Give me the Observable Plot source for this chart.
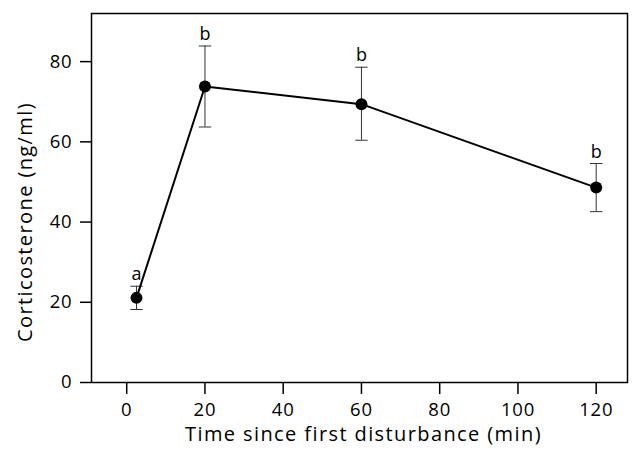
<!DOCTYPE html>
<html>
<head>
<meta charset="utf-8">
<script src="https://cdn.jsdelivr.net/npm/d3@7"></script>
<script src="https://cdn.jsdelivr.net/npm/@observablehq/plot@0.6"></script>
<style>
  body { margin: 0; background: #fff; }
</style>
</head>
<body>
<div id="chart"></div>
<script>
const times = [2.5, 20, 60, 120];
const means = [21.1, 73.8, 69.4, 48.6];
const lows = [18.2, 63.7, 60.4, 42.6];
const highs = [24.0, 83.9, 78.6, 54.6];
const letters = ["a", "b", "b", "b"];
const xTicks = [0, 20, 40, 60, 80, 100, 120];
const yTicks = [0, 20, 40, 60, 80];
const xLabel = "Time since first disturbance (min)";
const yLabel = "Corticosterone (ng/ml)";

const data = times.map((t, i) => ({t, m: means[i], lo: lows[i], hi: highs[i], g: letters[i]}));

const capSymbol = {
  draw(ctx, size) {
    const w = Math.sqrt(size);
    ctx.moveTo(-w, 0);
    ctx.lineTo(w, 0);
  }
};

const chart = Plot.plot({
  width: 632,
  height: 451,
  marginLeft: 91,
  marginRight: 5,
  marginTop: 13,
  marginBottom: 69,
  style: {fontFamily: "Open Sans, sans-serif", fontSize: "19px", color: "#000", background: "#fff"},
  x: {domain: [-9, 128]},
  y: {domain: [0, 92]},
  marks: [
    Plot.axisX({ticks: xTicks, tickSize: 12, tickPadding: 8, tickFormat: d => d, label: null, strokeWidth: 1.5, fontSize: 19}),
    Plot.axisY({ticks: yTicks, tickSize: 11, tickPadding: 8, tickFormat: d => d, label: null, strokeWidth: 1.5, fontSize: 19}),
    Plot.text([xLabel], {frameAnchor: "bottom", textAnchor: "middle", dx: 4, dy: 44, lineAnchor: "top", fontSize: 20, fill: "#000"}),
    Plot.text([yLabel], {frameAnchor: "left", textAnchor: "middle", dx: -66, dy: 24, rotate: -90, fontSize: 20, fill: "#000"}),
    Plot.ruleX(data, {x: "t", y1: "lo", y2: "hi", stroke: "#333", strokeWidth: 1}),
    Plot.dot(data, {x: "t", y: "lo", symbol: capSymbol, r: 3.5, stroke: "#333", strokeWidth: 1}),
    Plot.dot(data, {x: "t", y: "hi", symbol: capSymbol, r: 3.5, stroke: "#333", strokeWidth: 1}),
    Plot.line(data, {x: "t", y: "m", stroke: "#000", strokeWidth: 2}),
    Plot.dot(data, {x: "t", y: "m", r: 6, fill: "#000", stroke: "none"}),
    Plot.text(data, {x: "t", y: "hi", text: "g", lineAnchor: "bottom", dy: -6, fontSize: 18, fill: "#000"}),
    Plot.frame({stroke: "#000", strokeWidth: 1.5})
  ]
});
document.getElementById("chart").appendChild(chart);
d3.select(chart).selectAll("text").each(function() {
  const t = this.textContent;
  if (t === xLabel || t === yLabel) {
    this.style.letterSpacing = "1.4px";
    this.style.fontSize = "20px";
  } else if (/^\d+$/.test(t)) {
    this.style.fontSize = "18.5px";
    this.style.letterSpacing = "0.8px";
  }
});
</script>
</body>
</html>
